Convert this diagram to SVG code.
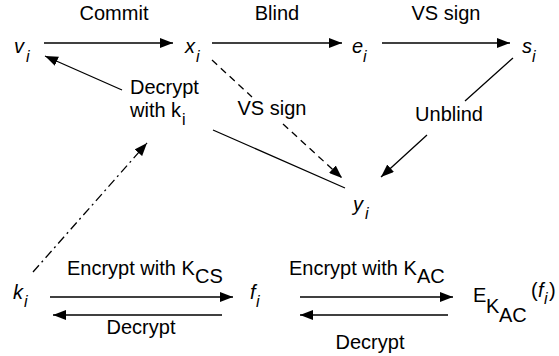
<svg xmlns="http://www.w3.org/2000/svg" width="559" height="356" viewBox="0 0 559 356">
<style>
.t{font-family:"Liberation Sans",Arial,Helvetica,sans-serif;font-size:20px;fill:#000}
.it{font-style:italic}
.s{font-size:16px}
.c{fill:none;stroke:#000;stroke-width:1.3}
.dash{stroke-dasharray:7,5}
.dd{stroke-dasharray:9,4,2,4}
</style>
<defs>
<marker id="ah" markerUnits="userSpaceOnUse" markerWidth="13" markerHeight="10" viewBox="0 0 13 10" refX="13" refY="5" orient="auto">
<path d="M0,0 L13,5 L0,10 z" fill="#000"/>
</marker>
</defs>
<rect width="559" height="356" fill="#fff"/>
<g id="connectors">
<path class="c" d="M44,43 L173,43" marker-end="url(#ah)"/>
<path class="c" d="M212,43 L342,43" marker-end="url(#ah)"/>
<path class="c" d="M382,43 L510,43" marker-end="url(#ah)"/>
<path class="c dash" d="M212,60 L252,97 M283,124 L342,178" marker-end="url(#ah)"/>
<path class="c" d="M345,188 L213,130 M122,90 L45,56" marker-end="url(#ah)"/>
<path class="c" d="M513,58 L465,101 M427,135 L381,177" marker-end="url(#ah)"/>
<path class="c dd" d="M33,272 L147,143" marker-end="url(#ah)"/>
<path class="c" d="M50,297 L233,297" marker-end="url(#ah)"/>
<path class="c" d="M222,315 L53,315" marker-end="url(#ah)"/>
<path class="c" d="M300,297 L453,297" marker-end="url(#ah)"/>
<path class="c" d="M448,315 L300,315" marker-end="url(#ah)"/>
<text class="t" x="114" y="20" text-anchor="middle">Commit</text>
<text class="t" x="277" y="20" text-anchor="middle">Blind</text>
<text class="t" x="446" y="20" text-anchor="middle">VS sign</text>
<text class="t" x="272" y="115" text-anchor="middle">VS sign</text>
<text class="t" x="130" y="94">Decrypt</text>
<text class="t" x="130" y="117">with k<tspan class="s" x="182" y="125">i</tspan></text>
<text class="t" x="449" y="121" text-anchor="middle">Unblind</text>
<text class="t" x="67" y="275">Encrypt with K<tspan x="195" y="283">CS</tspan></text>
<text class="t" x="289" y="275">Encrypt with K<tspan x="417" y="283">AC</tspan></text>
<text class="t" x="141" y="334" text-anchor="middle">Decrypt</text>
<text class="t" x="370" y="349" text-anchor="middle">Decrypt</text>
</g>
<g id="v"><text class="t it" x="14" y="53">v<tspan class="s" x="26" y="62">i</tspan></text></g>
<g id="x"><text class="t it" x="185" y="53">x<tspan class="s" x="196" y="62">i</tspan></text></g>
<g id="e"><text class="t it" x="352" y="53">e<tspan class="s" x="363" y="62">i</tspan></text></g>
<g id="s"><text class="t it" x="522" y="53">s<tspan class="s" x="532" y="62">i</tspan></text></g>
<g id="y"><text class="t it" x="353" y="211">y<tspan class="s" x="365" y="219">i</tspan></text></g>
<g id="k"><text class="t it" x="13" y="299">k<tspan class="s" x="24" y="307">i</tspan></text></g>
<g id="f"><text class="t it" x="250" y="299">f<tspan class="s" x="256" y="307">i</tspan></text></g>
<g id="E"><text class="t" x="473" y="302">E<tspan x="486" y="313">K</tspan><tspan x="499" y="322">AC</tspan><tspan x="531" y="297">(</tspan><tspan class="it" x="538" y="297">f</tspan><tspan class="it s" x="544" y="304">i</tspan><tspan x="549" y="297">)</tspan></text></g>
</svg>
